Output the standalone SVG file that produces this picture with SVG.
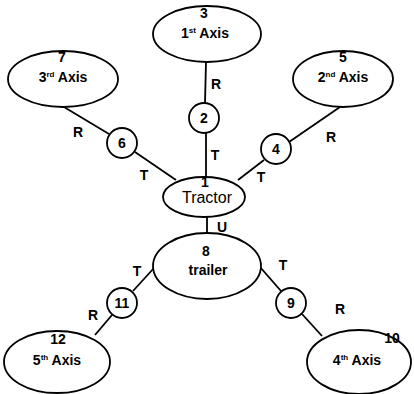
<svg xmlns="http://www.w3.org/2000/svg" width="414" height="394" viewBox="0 0 414 394">
<style>
.n{fill:#fff;stroke:#000;stroke-width:1.8}
.e line{stroke:#000;stroke-width:1.8}
text{font-family:"Liberation Sans",Arial,sans-serif;font-weight:bold;font-size:14px;fill:#000;text-anchor:middle}
.sup{font-size:8px}
.big{font-weight:normal;font-size:16px}
</style>
<rect width="414" height="394" fill="#fff"/>
<g id="connectors" class="e">
<line x1="206" y1="62" x2="205" y2="103"/>
<line x1="206" y1="133" x2="206" y2="177"/>
<line x1="64" y1="107" x2="109" y2="134"/>
<line x1="135" y1="152" x2="176" y2="180"/>
<line x1="340" y1="107" x2="289" y2="142"/>
<line x1="264" y1="160" x2="238" y2="180"/>
<line x1="207" y1="217" x2="207" y2="233"/>
<line x1="154" y1="268" x2="133" y2="291"/>
<line x1="112" y1="315" x2="95" y2="335"/>
<line x1="260" y1="267" x2="281" y2="291"/>
<line x1="302" y1="314" x2="322" y2="336"/>
</g>
<g id="labels">
<text x="216" y="89">R</text>
<text x="215" y="160">T</text>
<text x="78" y="137">R</text>
<text x="144" y="180">T</text>
<text x="261" y="182">T</text>
<text x="331" y="142">R</text>
<text x="222" y="232">U</text>
<text x="137" y="276">T</text>
<text x="283" y="270">T</text>
<text x="93" y="320">R</text>
<text x="340" y="314">R</text>
</g>
<g id="node3"><ellipse class="n" cx="207" cy="34" rx="54" ry="28"/><text x="204" y="18">3</text><text x="205" y="38">1<tspan class="sup" dy="-5">st</tspan><tspan dy="5"> Axis</tspan></text></g>
<g id="node7"><ellipse class="n" cx="63" cy="79" rx="55" ry="28"/><text x="62" y="62">7</text><text x="63" y="82">3<tspan class="sup" dy="-5">rd</tspan><tspan dy="5"> Axis</tspan></text></g>
<g id="node5"><ellipse class="n" cx="343" cy="79" rx="50" ry="28"/><text x="343" y="62">5</text><text x="343" y="82">2<tspan class="sup" dy="-5">nd</tspan><tspan dy="5"> Axis</tspan></text></g>
<g id="node2"><circle class="n" cx="204" cy="118" r="15"/><text x="204" y="123">2</text></g>
<g id="node6"><circle class="n" cx="122" cy="143" r="15"/><text x="122" y="148">6</text></g>
<g id="node4"><circle class="n" cx="276" cy="149" r="15"/><text x="276" y="154">4</text></g>
<g id="node1"><ellipse class="n" cx="204" cy="197" rx="41" ry="20"/><text x="205" y="187">1</text><text class="big" x="207" y="203">Tractor</text></g>
<g id="node8"><ellipse class="n" cx="207" cy="266" rx="54" ry="33"/><text x="206" y="256">8</text><text x="208" y="275">trailer</text></g>
<g id="node11"><circle class="n" cx="122" cy="303" r="15"/><text x="122" y="308">11</text></g>
<g id="node9"><circle class="n" cx="291" cy="303" r="15"/><text x="291" y="308">9</text></g>
<g id="node12"><ellipse class="n" cx="57" cy="362" rx="53" ry="31"/><text x="58" y="344">12</text><text x="57" y="365">5<tspan class="sup" dy="-5">th</tspan><tspan dy="5"> Axis</tspan></text></g>
<g id="node10"><ellipse class="n" cx="359" cy="362" rx="52" ry="32"/><text x="392" y="343">10</text><text x="357" y="365">4<tspan class="sup" dy="-5">th</tspan><tspan dy="5"> Axis</tspan></text></g>
</svg>
